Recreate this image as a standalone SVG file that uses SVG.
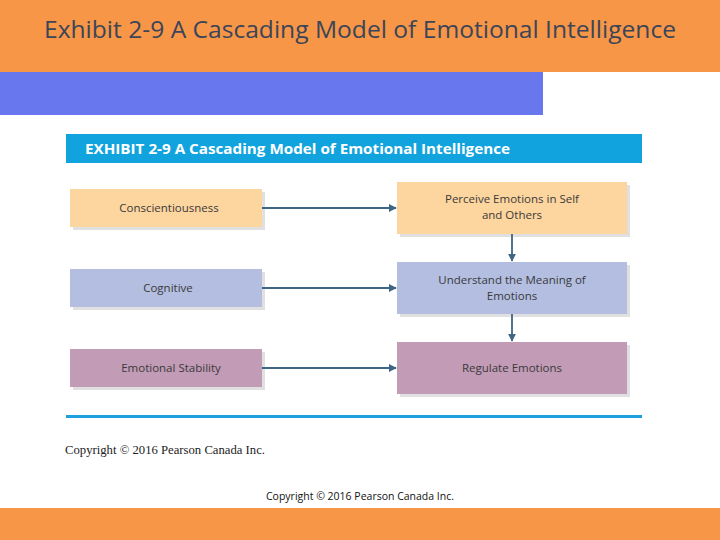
<svg xmlns="http://www.w3.org/2000/svg" width="720" height="540" viewBox="0 0 720 540">
<defs>
<style>
.lab{font-family:"Open Sans","Liberation Sans",sans-serif;font-size:11.5px;fill:#3a3a3a;text-anchor:middle}
.conn{stroke:#3f6585;stroke-width:1.8;fill:none;marker-end:url(#ah)}
.shadow{fill:#000;opacity:0.12}
</style>
<marker id="ah" viewBox="0 0 10 10" refX="9" refY="5" markerWidth="8" markerHeight="8" orient="auto" markerUnits="userSpaceOnUse">
<path d="M0,0 L10,5 L0,10 z" fill="#3f6585"/>
</marker>
</defs>
<rect width="720" height="540" fill="#fff"/>
<rect x="0" y="0" width="720" height="72" fill="#F79646"/>
<text x="360" y="38" font-family="Open Sans,Liberation Sans,sans-serif" font-size="23" fill="#3b4559" text-anchor="middle" textLength="632" lengthAdjust="spacingAndGlyphs">Exhibit 2-9 A Cascading Model of Emotional Intelligence</text>
<rect x="0" y="72" width="543" height="43" fill="#6877EE"/>
<rect x="66" y="134" width="576" height="29" fill="#11A3DD"/>
<text x="85" y="154" font-family="Open Sans,Liberation Sans,sans-serif" font-size="14" font-weight="bold" fill="#fff" textLength="425" lengthAdjust="spacingAndGlyphs">EXHIBIT 2-9  A Cascading Model of Emotional Intelligence</text>

<g id="conscientiousness">
<rect class="shadow" x="73" y="192" width="192" height="38"/>
<rect x="70" y="189" width="192" height="38" fill="#FDD59F"/>
<text class="lab" x="169" y="212">Conscientiousness</text>
</g>
<g id="cognitive">
<rect class="shadow" x="73" y="272" width="192" height="38"/>
<rect x="70" y="269" width="192" height="38" fill="#B3BEE1"/>
<text class="lab" x="168" y="292">Cognitive</text>
</g>
<g id="emotional-stability">
<rect class="shadow" x="73" y="352" width="192" height="38"/>
<rect x="70" y="349" width="192" height="38" fill="#C29BB6"/>
<text class="lab" x="171" y="372">Emotional Stability</text>
</g>
<g id="perceive">
<rect class="shadow" x="400" y="185" width="230" height="52"/>
<rect x="397" y="182" width="230" height="52" fill="#FDD59F"/>
<text class="lab" x="512" y="203">Perceive Emotions in Self</text>
<text class="lab" x="512" y="219">and Others</text>
</g>
<g id="understand">
<rect class="shadow" x="400" y="265" width="230" height="52"/>
<rect x="397" y="262" width="230" height="52" fill="#B3BEE1"/>
<text class="lab" x="512" y="284">Understand the Meaning of</text>
<text class="lab" x="512" y="300">Emotions</text>
</g>
<g id="regulate">
<rect class="shadow" x="400" y="345" width="230" height="52"/>
<rect x="397" y="342" width="230" height="52" fill="#C29BB6"/>
<text class="lab" x="512" y="372">Regulate Emotions</text>
</g>

<g id="connectors">
<line class="conn" x1="262" y1="208" x2="396" y2="208"/>
<line class="conn" x1="262" y1="288" x2="396" y2="288"/>
<line class="conn" x1="262" y1="368" x2="396" y2="368"/>
<line class="conn" x1="512" y1="234" x2="512" y2="261"/>
<line class="conn" x1="512" y1="314" x2="512" y2="341"/>
</g>

<rect x="66" y="415" width="576" height="3" fill="#1EA0DC"/>
<text x="65" y="454" font-family="Liberation Serif,serif" font-size="12" fill="#222" textLength="200" lengthAdjust="spacingAndGlyphs">Copyright © 2016 Pearson Canada Inc.</text>
<text x="360" y="500" font-family="Open Sans,Liberation Sans,sans-serif" font-size="10.5" fill="#111" text-anchor="middle" textLength="188" lengthAdjust="spacingAndGlyphs">Copyright © 2016 Pearson Canada Inc.</text>
<rect x="0" y="508" width="720" height="32" fill="#F79646"/>
</svg>
